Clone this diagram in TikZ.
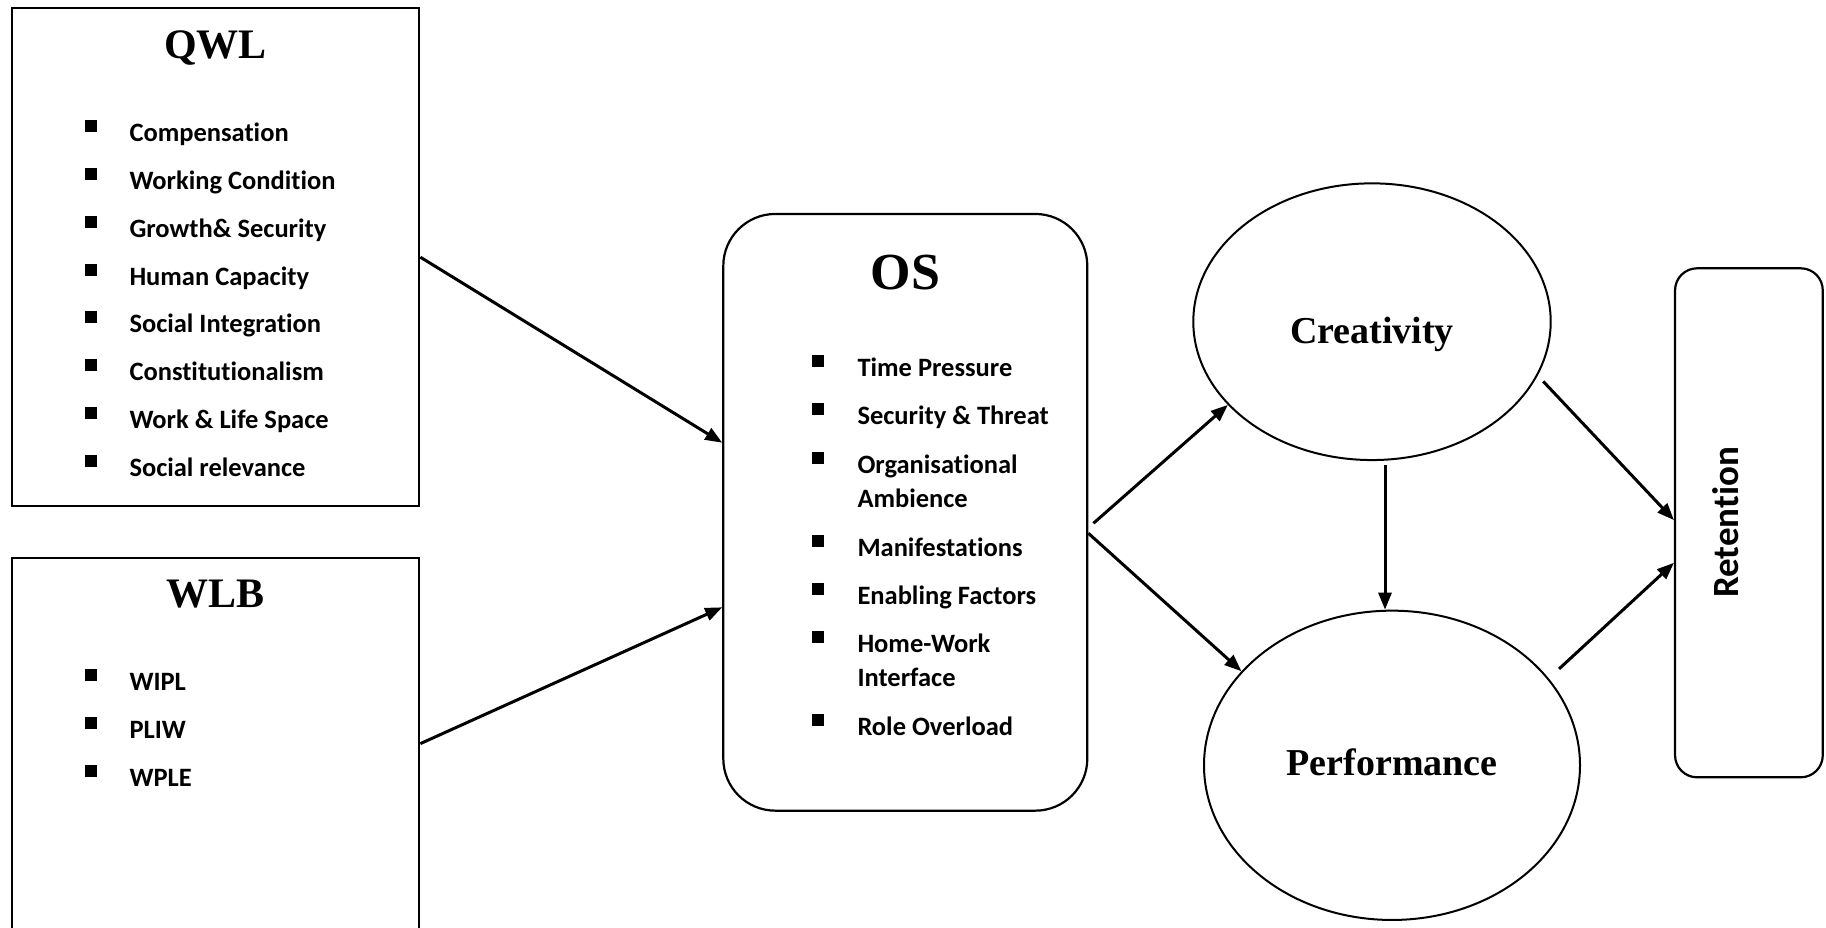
\documentclass[tikz,border=0pt]{standalone}
\usepackage{fontspec}
\setmainfont{Liberation Serif}
\newfontfamily\calibri[Ligatures=NoCommon]{Carlito}
\usetikzlibrary{arrows.meta, positioning, shapes.geometric}

\begin{document}
\begin{tikzpicture}[x=1pt, y=-1pt, >={Triangle[length=17pt, width=13pt]},
    box/.style={draw, line width=2.2pt, inner sep=0pt},
    oval/.style={draw, ellipse, line width=2pt, inner sep=0pt},
    title/.style={anchor=base, font=\bfseries\fontsize{42}{50}\selectfont},
    itm/.style={anchor=base west, align=left, inner sep=0pt, font=\calibri\bfseries\fontsize{26.5}{34}\selectfont},
    bullet/.style={fill=black, minimum size=12pt, inner sep=0pt},
    arr/.style={->, line width=3pt}]
    \clip (0,0) rectangle (1826,927);

    % Khối QWL
    \node[box, minimum width=407.6pt, minimum height=497.7pt] (qwl) at (215.5,257.2) {};
    \node[title] (qwltitle) at ([yshift=-51pt]qwl.north) {QWL};
    \foreach \txt [count=\i from 0] in {Compensation, Working Condition, Growth\& Security, Human Capacity, Social Integration, Constitutionalism, Work \& Life Space, Social relevance} {
        \node[itm] (q\i) at (129.3,{141.7+47.8*\i}) {\txt};
        \node[bullet] (qb\i) at (90.5,{126.2+47.8*\i}) {};
    }

    % Khối WLB (đặt ngay bên dưới khối QWL)
    \node[box, minimum width=407.6pt, minimum height=370.7pt, below=50pt of qwl] (wlb) {};
    \node[title] (wlbtitle) at ([yshift=-50pt]wlb.north) {WLB};
    \foreach \txt [count=\i from 0] in {WIPL, PLIW, WPLE} {
        \node[itm] (w\i) at (129.3,{690.7+48*\i}) {\txt};
        \node[bullet] (wb\i) at (90.5,{675.2+48*\i}) {};
    }

    % Khối OS (\dy: dòng thứ hai của mục xuống dòng)
    \node[box, rounded corners=52pt, minimum width=364pt, minimum height=596.7pt] (os) at (905.3,512.3) {};
    \node[title, font=\bfseries\fontsize{52}{60}\selectfont] (ostitle) at ([yshift=-77pt]os.north) {OS};
    \foreach \yy/\dy/\txt [count=\i] in {376.7/0/Time Pressure, 424/0/Security \& Threat, 473.3/34/{Organisational\\Ambience}, 556.7/0/Manifestations, 604.3/0/Enabling Factors, 652.7/34/{Home-Work\\Interface}, 735/0/Role Overload} {
        \node[itm] (o\i) at (857.3,{\yy+\dy}) {\txt};
        \node[bullet] (ob\i) at (818.3,{\yy-15.5}) {};
    }

    % Hai hình elip
    \node[oval, minimum width=357.4pt, minimum height=276.7pt] (crea) at (1372,321.7) {};
    \node[title, font=\bfseries\fontsize{38}{46}\selectfont] (creatitle) at ([yshift=-21.6pt]crea.center) {Creativity};
    \node[oval, minimum width=376pt, minimum height=309.3pt] (perf) at (1392,765.3) {};
    \node[title, font=\bfseries\fontsize{38}{46}\selectfont] (perftitle) at ([yshift=-9.7pt]perf.center) {Performance};

    % Khối Retention (chữ xoay dọc)
    \node[box, rounded corners=22pt, minimum width=147.7pt, minimum height=509pt] (ret) at (1748.9,522.8) {};
    \node[anchor=base, rotate=90, font=\calibri\bfseries\fontsize{37}{44}\selectfont] (rettitle) at (1738.3,522.5) {Retention};

    % Các đường mũi tên liên kết
    \draw[arr] (qwl.east) -- ([yshift=69.6pt]os.west);
    \draw[arr] (wlb.east) -- ([yshift=-95pt]os.west);
    \draw[arr] ([shift={(5pt,-11pt)}]os.east) -- (crea.210);
    \draw[arr] ([yshift=-21pt]os.east) -- (perf.148);
    \draw[arr] ([shift={(13pt,-4pt)}]crea.south) -- ([xshift=-7pt]perf.north);
    \draw[arr, shorten <=8pt] (crea.-18.5) -- ([yshift=2.7pt]ret.west);
    \draw[arr, shorten <=14pt] (perf.29.3) -- ([yshift=-40pt]ret.west);
\end{tikzpicture}
\end{document}
